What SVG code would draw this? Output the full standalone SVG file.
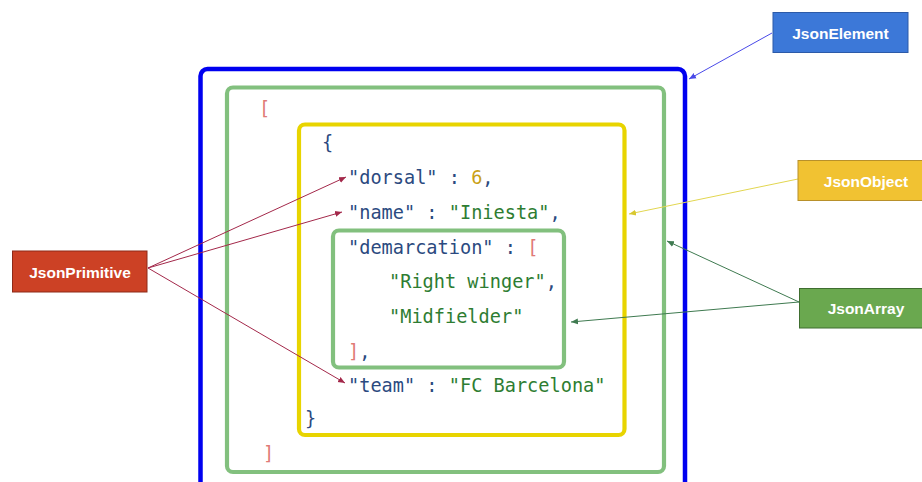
<svg xmlns="http://www.w3.org/2000/svg" width="922" height="482" viewBox="0 0 922 482">
  <defs>
    <style>
      .frame { fill: none; }
      .code { font-family: "DejaVu Sans Mono", "Liberation Mono", monospace; font-size: 18.6px; }
      .k { fill: #2b4a80; }
      .s { fill: #2e7d32; }
      .n { fill: #c9a116; }
      .b { fill: #e07a76; }
      .lbl { font-family: "Liberation Sans", Arial, sans-serif; font-size: 15.5px; font-weight: bold; fill: #ffffff; text-anchor: middle; dominant-baseline: central; }
      .conn { fill: none; stroke-width: 1; }
    </style>
    <marker id="arrBlue" markerWidth="8" markerHeight="8" refX="7" refY="4" orient="auto" markerUnits="userSpaceOnUse">
      <path d="M0,1 L7,4 L0,7 z" fill="#4a4ae8"/>
    </marker>
    <marker id="arrYellow" markerWidth="8" markerHeight="8" refX="7" refY="4" orient="auto" markerUnits="userSpaceOnUse">
      <path d="M0,1 L7,4 L0,7 z" fill="#d8c830"/>
    </marker>
    <marker id="arrGreen" markerWidth="8" markerHeight="8" refX="7" refY="4" orient="auto" markerUnits="userSpaceOnUse">
      <path d="M0,1 L7,4 L0,7 z" fill="#3f7a50"/>
    </marker>
    <marker id="arrRed" markerWidth="8" markerHeight="8" refX="7" refY="4" orient="auto" markerUnits="userSpaceOnUse">
      <path d="M0,1 L7,4 L0,7 z" fill="#a3284a"/>
    </marker>
  </defs>

  <rect width="922" height="482" fill="#ffffff"/>

  <!-- nested frames -->
  <g id="element-frame">
    <rect class="frame" x="200.5" y="69" width="484.5" height="440" rx="7" stroke="#0000f0" stroke-width="4.5"/>
  </g>
  <g id="outer-array-frame">
    <rect class="frame" x="227" y="87.5" width="437" height="384.5" rx="6" stroke="#82c07e" stroke-width="4.2"/>
  </g>
  <g id="object-frame">
    <rect class="frame" x="299" y="124.5" width="325.5" height="310.5" rx="6" stroke="#e8d400" stroke-width="4.2"/>
  </g>
  <g id="inner-array-frame">
    <rect class="frame" x="333" y="230.5" width="231" height="137" rx="6" stroke="#82c07e" stroke-width="4.2"/>
  </g>

  <!-- JSON source -->
  <g id="code" class="code">
    <text x="259" y="115" class="b">[</text>
    <text x="322" y="149" class="k">{</text>
    <text x="348" y="184" class="k">"dorsal" : <tspan class="n">6</tspan>,</text>
    <text x="348" y="219" class="k">"name" : <tspan class="s">"Iniesta"</tspan>,</text>
    <text x="348" y="253.5" class="k">"demarcation" : <tspan class="b">[</tspan></text>
    <text x="389" y="288" class="s">"Right winger"<tspan class="k">,</tspan></text>
    <text x="389" y="322.5" class="s">"Midfielder"</text>
    <text x="348" y="357.5" class="b">]<tspan class="k">,</tspan></text>
    <text x="348" y="392" class="k">"team" : <tspan class="s">"FC Barcelona"</tspan></text>
    <text x="305" y="425" class="k">}</text>
    <text x="263" y="460" class="b">]</text>
  </g>

  <!-- connectors -->
  <g id="connectors">
    <line class="conn" x1="772" y1="33" x2="689" y2="79" stroke="#4a4ae8" marker-end="url(#arrBlue)"/>
    <line class="conn" x1="798" y1="179" x2="629" y2="214" stroke="#e2d650" marker-end="url(#arrYellow)"/>
    <line class="conn" x1="799" y1="302" x2="667" y2="241" stroke="#3f7a50" marker-end="url(#arrGreen)"/>
    <line class="conn" x1="799" y1="302" x2="571" y2="322" stroke="#3f7a50" marker-end="url(#arrGreen)"/>
    <line class="conn" x1="148" y1="268" x2="346" y2="177" stroke="#a3284a" marker-end="url(#arrRed)"/>
    <line class="conn" x1="148" y1="268" x2="342" y2="212" stroke="#a3284a" marker-end="url(#arrRed)"/>
    <line class="conn" x1="148" y1="268" x2="345" y2="383" stroke="#a3284a" marker-end="url(#arrRed)"/>
  </g>

  <!-- labels -->
  <g id="JsonElement">
    <rect x="773" y="12.5" width="135" height="40" fill="#3c78d8" stroke="#2c5aa8" stroke-width="1"/>
    <text class="lbl" x="840.5" y="33">JsonElement</text>
  </g>
  <g id="JsonObject">
    <rect x="798" y="160.5" width="126" height="40" fill="#f1c232" stroke="#b8902a" stroke-width="1"/>
    <text class="lbl" x="866" y="181">JsonObject</text>
  </g>
  <g id="JsonArray">
    <rect x="799.5" y="288.5" width="124" height="39.5" fill="#6aa84f" stroke="#3f6e30" stroke-width="1"/>
    <text class="lbl" x="866" y="308.5">JsonArray</text>
  </g>
  <g id="JsonPrimitive">
    <rect x="12.5" y="251" width="134.5" height="41" fill="#cc4125" stroke="#8e2a18" stroke-width="1"/>
    <text class="lbl" x="80" y="272">JsonPrimitive</text>
  </g>
</svg>
